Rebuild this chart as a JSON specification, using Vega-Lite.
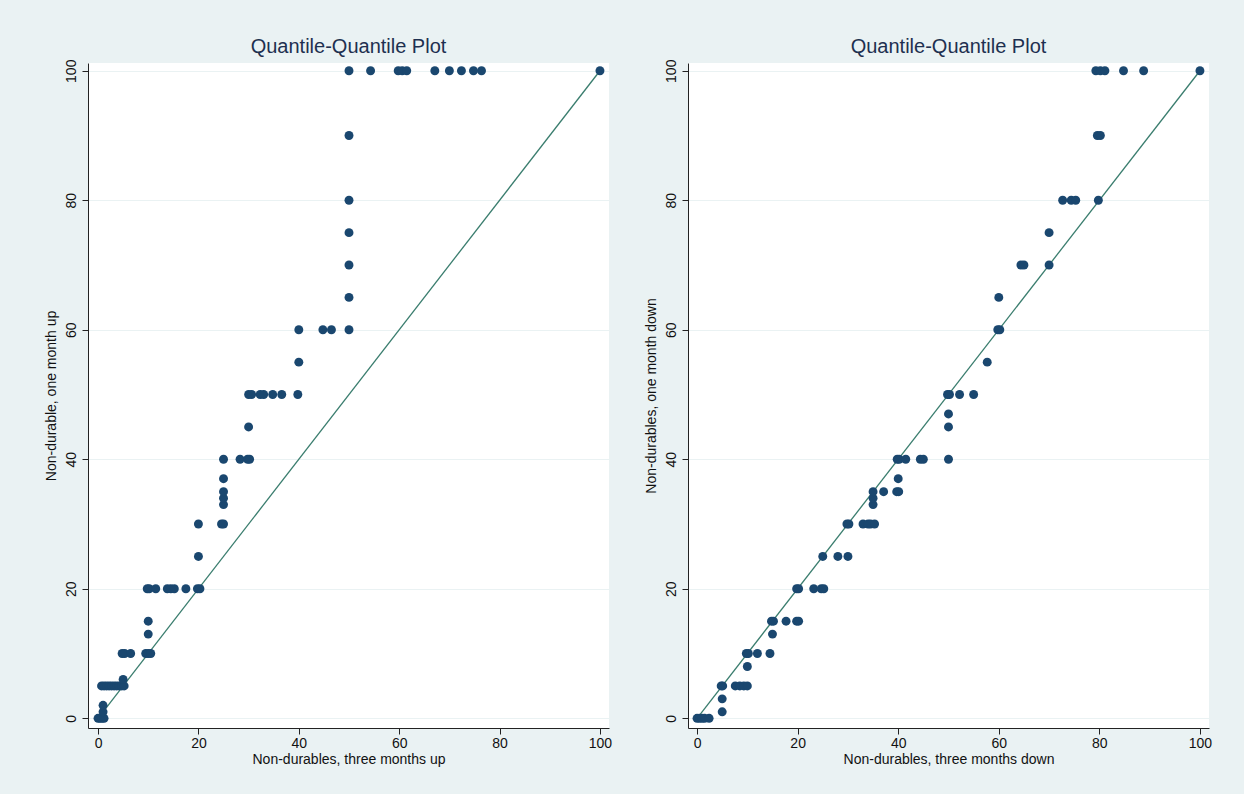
{
  "$schema": "https://vega.github.io/schema/vega-lite/v6.json",
  "background": "#EAF2F3",
  "padding": {"left": 44, "top": 37, "right": 33, "bottom": 28},
  "datasets": {
    "up": [
      {"x": 0, "y": 0}, {"x": 0.4, "y": 0}, {"x": 0.8, "y": 0}, {"x": 1.2, "y": 0},
      {"x": 1, "y": 1}, {"x": 1, "y": 2},
      {"x": 0.7, "y": 5}, {"x": 1.2, "y": 5}, {"x": 1.7, "y": 5}, {"x": 2.2, "y": 5}, {"x": 2.7, "y": 5}, {"x": 3.2, "y": 5}, {"x": 3.7, "y": 5}, {"x": 4.2, "y": 5}, {"x": 4.7, "y": 5}, {"x": 5.2, "y": 5},
      {"x": 5, "y": 6},
      {"x": 4.8, "y": 10}, {"x": 5.3, "y": 10}, {"x": 6.5, "y": 10}, {"x": 9.5, "y": 10}, {"x": 10, "y": 10}, {"x": 10.5, "y": 10},
      {"x": 10, "y": 13}, {"x": 10, "y": 15},
      {"x": 9.8, "y": 20}, {"x": 10.2, "y": 20}, {"x": 11.5, "y": 20}, {"x": 13.8, "y": 20}, {"x": 14.5, "y": 20}, {"x": 15.2, "y": 20}, {"x": 17.5, "y": 20}, {"x": 19.8, "y": 20}, {"x": 20.3, "y": 20},
      {"x": 20, "y": 25}, {"x": 20, "y": 30},
      {"x": 24.6, "y": 30}, {"x": 25, "y": 30},
      {"x": 25, "y": 33}, {"x": 25, "y": 34}, {"x": 25, "y": 35}, {"x": 25, "y": 37},
      {"x": 25, "y": 40}, {"x": 28.3, "y": 40}, {"x": 29.8, "y": 40}, {"x": 30.2, "y": 40},
      {"x": 30, "y": 45},
      {"x": 30, "y": 50}, {"x": 30.6, "y": 50}, {"x": 32.3, "y": 50}, {"x": 33, "y": 50}, {"x": 34.8, "y": 50}, {"x": 36.6, "y": 50}, {"x": 39.8, "y": 50},
      {"x": 40, "y": 55},
      {"x": 40, "y": 60}, {"x": 44.8, "y": 60}, {"x": 46.5, "y": 60}, {"x": 50, "y": 60},
      {"x": 50, "y": 65}, {"x": 50, "y": 70}, {"x": 50, "y": 75}, {"x": 50, "y": 80}, {"x": 50, "y": 90},
      {"x": 50, "y": 100}, {"x": 54.3, "y": 100}, {"x": 59.8, "y": 100}, {"x": 60.6, "y": 100}, {"x": 61.5, "y": 100}, {"x": 67.1, "y": 100}, {"x": 70, "y": 100}, {"x": 72.4, "y": 100}, {"x": 74.8, "y": 100}, {"x": 76.4, "y": 100}, {"x": 100, "y": 100}
    ],
    "down": [
      {"x": 0, "y": 0}, {"x": 0.5, "y": 0}, {"x": 1, "y": 0}, {"x": 1.5, "y": 0}, {"x": 2.4, "y": 0},
      {"x": 5, "y": 1}, {"x": 5, "y": 3},
      {"x": 4.8, "y": 5}, {"x": 5.1, "y": 5}, {"x": 7.6, "y": 5}, {"x": 8.5, "y": 5}, {"x": 9.3, "y": 5}, {"x": 10, "y": 5},
      {"x": 10, "y": 8},
      {"x": 9.8, "y": 10}, {"x": 10.2, "y": 10}, {"x": 12, "y": 10}, {"x": 14.5, "y": 10},
      {"x": 15, "y": 13},
      {"x": 14.8, "y": 15}, {"x": 15.2, "y": 15}, {"x": 17.7, "y": 15}, {"x": 19.8, "y": 15}, {"x": 20.2, "y": 15},
      {"x": 19.8, "y": 20}, {"x": 20.2, "y": 20}, {"x": 23.2, "y": 20}, {"x": 24.7, "y": 20}, {"x": 25.2, "y": 20},
      {"x": 25, "y": 25}, {"x": 28, "y": 25}, {"x": 30, "y": 25},
      {"x": 29.8, "y": 30}, {"x": 30.2, "y": 30}, {"x": 33, "y": 30}, {"x": 34, "y": 30}, {"x": 34.5, "y": 30}, {"x": 35.3, "y": 30},
      {"x": 35, "y": 33}, {"x": 35, "y": 34}, {"x": 35, "y": 35}, {"x": 37.1, "y": 35}, {"x": 39.7, "y": 35}, {"x": 40.1, "y": 35},
      {"x": 40, "y": 37},
      {"x": 39.8, "y": 40}, {"x": 40.2, "y": 40}, {"x": 41.5, "y": 40}, {"x": 44.4, "y": 40}, {"x": 45, "y": 40}, {"x": 50, "y": 40},
      {"x": 50, "y": 45}, {"x": 50, "y": 47},
      {"x": 49.8, "y": 50}, {"x": 50.2, "y": 50}, {"x": 52.2, "y": 50}, {"x": 55, "y": 50},
      {"x": 57.7, "y": 55},
      {"x": 59.8, "y": 60}, {"x": 60.2, "y": 60}, {"x": 60, "y": 65},
      {"x": 64.4, "y": 70}, {"x": 65, "y": 70}, {"x": 70, "y": 70}, {"x": 70, "y": 75},
      {"x": 72.7, "y": 80}, {"x": 74.4, "y": 80}, {"x": 75.3, "y": 80}, {"x": 79.8, "y": 80},
      {"x": 79.6, "y": 90}, {"x": 80.2, "y": 90},
      {"x": 79.3, "y": 100}, {"x": 80.2, "y": 100}, {"x": 81.1, "y": 100}, {"x": 84.8, "y": 100}, {"x": 88.8, "y": 100}, {"x": 100, "y": 100}
    ],
    "diag": [
      {"x": 0, "y": 0, "x2": 100, "y2": 100}
    ]
  },
  "spacing": 32,
  "hconcat": [
    {
      "width": 521,
      "height": 665,
      "title": {"text": "Quantile-Quantile Plot"},
      "layer": [
        {
          "data": {"name": "diag"},
          "mark": {"type": "rule", "color": "#3a7d6e", "strokeWidth": 1.3},
          "encoding": {
            "x": {"field": "x", "type": "quantitative", "scale": {"domain": [-2, 101.8], "nice": false, "zero": false},
                  "axis": {"values": [0, 20, 40, 60, 80, 100], "grid": false, "labelPadding": 2, "titlePadding": 2, "labelFlush": false}},
            "y": {"field": "y", "type": "quantitative", "scale": {"domain": [-1.5, 101.2], "nice": false, "zero": false},
                  "axis": {"values": [0, 20, 40, 60, 80, 100], "grid": true, "gridColor": "#EAF2F3", "gridWidth": 1.2, "labelAngle": -90, "labelAlign": "center", "labelBaseline": "bottom", "labelPadding": 4, "titlePadding": 6, "labelFlush": false}},
            "x2": {"field": "x2"},
            "y2": {"field": "y2"}
          }
        },
        {
          "data": {"name": "up"},
          "mark": {"type": "circle", "color": "#1a476f", "opacity": 1, "size": 80},
          "encoding": {
            "x": {"field": "x", "type": "quantitative", "title": "Non-durables, three months up"},
            "y": {"field": "y", "type": "quantitative", "title": "Non-durable, one month up"}
          }
        }
      ]
    },
    {
      "width": 521,
      "height": 665,
      "title": {"text": "Quantile-Quantile Plot"},
      "layer": [
        {
          "data": {"name": "diag"},
          "mark": {"type": "rule", "color": "#3a7d6e", "strokeWidth": 1.3},
          "encoding": {
            "x": {"field": "x", "type": "quantitative", "scale": {"domain": [-1.8, 101.8], "nice": false, "zero": false},
                  "axis": {"values": [0, 20, 40, 60, 80, 100], "grid": false, "labelPadding": 2, "titlePadding": 2, "labelFlush": false}},
            "y": {"field": "y", "type": "quantitative", "scale": {"domain": [-1.5, 101.2], "nice": false, "zero": false},
                  "axis": {"values": [0, 20, 40, 60, 80, 100], "grid": true, "gridColor": "#EAF2F3", "gridWidth": 1.2, "labelAngle": -90, "labelAlign": "center", "labelBaseline": "bottom", "labelPadding": 4, "titlePadding": 6, "labelFlush": false}},
            "x2": {"field": "x2"},
            "y2": {"field": "y2"}
          }
        },
        {
          "data": {"name": "down"},
          "mark": {"type": "circle", "color": "#1a476f", "opacity": 1, "size": 80},
          "encoding": {
            "x": {"field": "x", "type": "quantitative", "title": "Non-durables, three months down"},
            "y": {"field": "y", "type": "quantitative", "title": "Non-durables, one month down"}
          }
        }
      ]
    }
  ],
  "config": {
    "font": "Liberation Sans",
    "view": {"fill": "white", "stroke": null},
    "title": {"fontSize": 20, "fontWeight": "normal", "color": "#1e3050", "anchor": "middle", "offset": 2, "font": "Liberation Sans"},
    "axis": {
      "domainColor": "#222222",
      "tickColor": "#222222",
      "tickSize": 6,
      "labelFontSize": 14,
      "labelColor": "#111111",
      "titleFontSize": 14,
      "titleFontWeight": "normal",
      "titleColor": "#111111",
      "labelFont": "Liberation Sans",
      "titleFont": "Liberation Sans"
    }
  }
}
